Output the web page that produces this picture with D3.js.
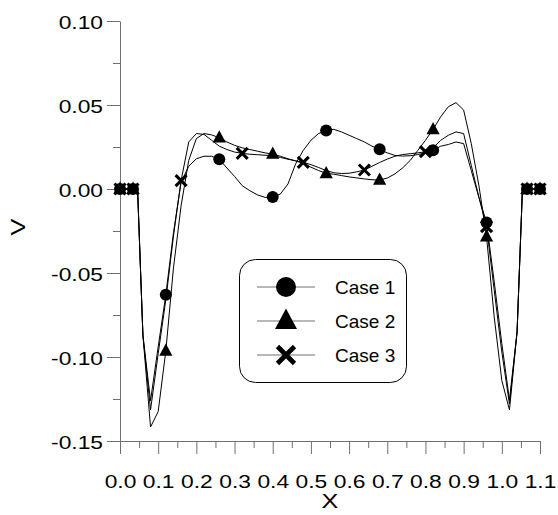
<!DOCTYPE html>
<html>
<head>
<meta charset="utf-8">
<script src="https://cdn.jsdelivr.net/npm/d3@7"></script>
<style>
  body { margin: 0; background: #fff; }
  text { font-family: "Liberation Sans", Arial, sans-serif; }
</style>
</head>
<body>
<div id="plot"></div>
<script>
// x positions of the computed points
const xs = [0, 0.034, 0.046, 0.06, 0.08, 0.10, 0.12, 0.14, 0.16, 0.18, 0.20, 0.22, 0.24, 0.26, 0.28, 0.30,
  0.32, 0.34, 0.36, 0.38, 0.40, 0.42, 0.44, 0.46, 0.48, 0.50, 0.52, 0.54, 0.56, 0.58, 0.60, 0.62, 0.64,
  0.66, 0.68, 0.70, 0.72, 0.74, 0.76, 0.78, 0.80, 0.82, 0.84, 0.86, 0.88, 0.90, 0.92, 0.94, 0.96, 0.98,
  1.00, 1.02, 1.04, 1.054, 1.066, 1.1];

const case1 = [0, 0, 0, -0.087, -0.126, -0.094, -0.063, -0.026, 0.004, 0.0135, 0.018, 0.0195, 0.0195, 0.0177, 0.0125, 0.0075,
  0.002, -0.001, -0.0035, -0.005, -0.0048, -0.003, 0.003, 0.015, 0.023, 0.029, 0.033, 0.0348, 0.0355, 0.034, 0.032, 0.030, 0.028,
  0.0255, 0.0236, 0.0215, 0.020, 0.0196, 0.0198, 0.0205, 0.0215, 0.023, 0.0255, 0.0265, 0.028, 0.027, 0.011, -0.005, -0.020, -0.055,
  -0.092, -0.1256, -0.085, 0, 0, 0];

const case2 = [0, 0, 0, -0.087, -0.1417, -0.1325, -0.0964, -0.047, -0.010, 0.017, 0.030, 0.033, 0.0322, 0.0305, 0.028, 0.026,
  0.0245, 0.0235, 0.0225, 0.0215, 0.0208, 0.0195, 0.018, 0.0167, 0.0152, 0.013, 0.011, 0.0093, 0.0088, 0.008, 0.0072, 0.0066, 0.006,
  0.0055, 0.0054, 0.0065, 0.009, 0.0125, 0.017, 0.023, 0.029, 0.0355, 0.043, 0.049, 0.0514, 0.047, 0.027, 0.002, -0.0284, -0.076,
  -0.114, -0.1315, -0.085, 0, 0, 0];

const case3 = [0, 0, 0, -0.087, -0.1315, -0.098, -0.066, -0.028, 0.005, 0.028, 0.033, 0.0325, 0.029, 0.0255, 0.0235, 0.022,
  0.0212, 0.0207, 0.0204, 0.0201, 0.0198, 0.0188, 0.0177, 0.0168, 0.0159, 0.0145, 0.0128, 0.011, 0.0097, 0.0092, 0.0094, 0.0102, 0.0113,
  0.0135, 0.0158, 0.0178, 0.0195, 0.0205, 0.021, 0.0215, 0.0222, 0.0245, 0.029, 0.032, 0.034, 0.033, 0.014, -0.005, -0.0224, -0.060,
  -0.097, -0.128, -0.085, 0, 0, 0];

// where the symbols sit
const marks12 = [0, 0.034, 0.12, 0.26, 0.40, 0.54, 0.68, 0.82, 0.96, 1.066, 1.1];
const marks3 = [0, 0.034, 0.16, 0.32, 0.48, 0.64, 0.80, 0.96, 1.066, 1.1];

const xTicks = [0, 0.1, 0.2, 0.3, 0.4, 0.5, 0.6, 0.7, 0.8, 0.9, 1.0, 1.1];
const xMinor = [0.05, 0.15, 0.25, 0.35, 0.45, 0.55, 0.65, 0.75, 0.85, 0.95, 1.05];
const yTicks = [-0.15, -0.10, -0.05, 0.00, 0.05, 0.10];
const yMinor = [-0.125, -0.075, -0.025, 0.025, 0.075];

const legendNames = ["Case 1", "Case 2", "Case 3"];

const w = 558, h = 515;
const axisColor = "#707070";
const stretch = 1.2;

const svg = d3.select("div#plot")
  .append("svg")
    .attr("width", w)
    .attr("height", h);

svg.append("rect").attr("width", w).attr("height", h).attr("fill", "#fff");

const xScale = d3.scaleLinear().domain([0, 1.1]).range([120, 540]);
const yScale = d3.scaleLinear().domain([-0.15, 0.10]).range([441, 21]);

// symbols
const tri = s => `M0,${-s * 0.62}L${s * 0.55},${s * 0.4}L${-s * 0.55},${s * 0.4}Z`;
const cross = s => `M${-s / 2},${-s / 2}L${s / 2},${s / 2}M${-s / 2},${s / 2}L${s / 2},${-s / 2}`;

function drawSymbol(g, kind, size) {
  if (kind === 0) {
    g.append("circle").attr("r", size / 2).attr("fill", "#000");
  } else if (kind === 1) {
    g.append("path").attr("d", tri(size)).attr("fill", "#000");
  } else {
    g.append("path").attr("d", cross(size)).attr("fill", "none")
      .attr("stroke", "#000").attr("stroke-width", size * 0.28);
  }
}

// x axis
const xAxisG = svg.append("g")
  .attr("transform", `translate(0, ${yScale(-0.15)})`)
  .call(d3.axisBottom(xScale).tickValues(xTicks).tickSize(13).tickSizeOuter(0).tickFormat(d3.format(".1f")));
svg.append("g")
  .attr("transform", `translate(0, ${yScale(-0.15)})`)
  .call(d3.axisBottom(xScale).tickValues(xMinor).tickSize(7).tickSizeOuter(0).tickFormat(""))
  .select(".domain").remove();

// y axis
const yAxisG = svg.append("g")
  .attr("transform", `translate(${xScale(0)}, 0)`)
  .call(d3.axisLeft(yScale).tickValues(yTicks).tickSize(13).tickSizeOuter(0).tickFormat(d3.format(".2f")));
svg.append("g")
  .attr("transform", `translate(${xScale(0)}, 0)`)
  .call(d3.axisLeft(yScale).tickValues(yMinor).tickSize(7).tickSizeOuter(0).tickFormat(""))
  .select(".domain").remove();

svg.selectAll(".domain, .tick line").attr("stroke", axisColor).attr("stroke-width", 1);

xAxisG.selectAll(".tick text")
  .attr("y", 47).attr("dy", 0)
  .attr("fill", "#000")
  .style("font-size", "19px")
  .style("font-family", "'Liberation Sans', Arial, sans-serif")
  .attr("transform", `scale(${stretch},1)`);

yAxisG.selectAll(".tick text")
  .attr("x", 0).attr("dy", 7)
  .attr("fill", "#000")
  .style("font-size", "19px")
  .style("font-family", "'Liberation Sans', Arial, sans-serif")
  .attr("transform", `translate(-17,0) scale(${stretch},1)`)
  .text(d => d3.format(".2f")(d).replace("−", "-"));

// axis titles
svg.append("text")
  .attr("transform", `translate(${(xScale(0) + xScale(1.1)) / 2}, 508) scale(${stretch},1)`)
  .attr("text-anchor", "middle")
  .style("font-size", "21px")
  .text("X");

svg.append("text")
  .attr("transform", `translate(25, ${(yScale(-0.15) + yScale(0.10)) / 2 - 4}) rotate(-90) scale(${stretch},1)`)
  .attr("text-anchor", "middle")
  .style("font-size", "21px")
  .text("V");

// curves
const series = [case1, case2, case3];
const line = d3.line()
  .x((d, i) => xScale(xs[i]))
  .y(d => yScale(d));

series.forEach(vals => {
  svg.append("path")
    .datum(vals)
    .attr("d", line)
    .attr("fill", "none")
    .attr("stroke", "#000")
    .attr("stroke-width", 1);
});

// markers
series.forEach((vals, k) => {
  const at = k === 2 ? marks3 : marks12;
  const pts = xs.map((x, i) => ({x: x, v: vals[i]})).filter(p => at.includes(p.x));
  svg.append("g").selectAll("g")
    .data(pts)
    .enter()
    .append("g")
    .attr("transform", d => `translate(${xScale(d.x)}, ${yScale(d.v)})`)
    .each(function() { drawSymbol(d3.select(this), k, k === 2 ? 11 : 12); });
});

// legend
const leg = svg.append("g");
leg.append("rect")
  .attr("x", 239.5).attr("y", 259.5)
  .attr("width", 167).attr("height", 123)
  .attr("rx", 16).attr("ry", 16)
  .attr("fill", "#fff")
  .attr("stroke", "#000")
  .attr("stroke-width", 1);

const rowY = d3.scalePoint().domain(legendNames).range([287, 355]);
legendNames.forEach((name, k) => {
  const y = rowY(name);
  leg.append("line")
    .attr("x1", 257).attr("x2", 315)
    .attr("y1", y).attr("y2", y)
    .attr("stroke", axisColor).attr("stroke-width", 1);
  const g = leg.append("g").attr("transform", `translate(286, ${y})`);
  drawSymbol(g, k, k === 2 ? 17 : 20);
  leg.append("text")
    .attr("x", 335).attr("y", y + 7)
    .style("font-size", "19px")
    .text(name);
});
</script>
</body>
</html>
